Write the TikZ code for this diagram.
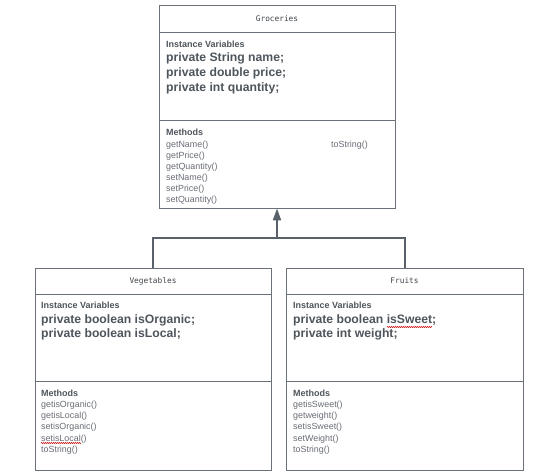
\documentclass[tikz,border=0pt]{standalone}
\usepackage{fontspec}
\setmainfont{Liberation Sans}
\newfontfamily\monofont{DejaVu Sans Mono}
\usetikzlibrary{arrows.meta,decorations.pathmorphing}
\definecolor{txt}{HTML}{4F555C}
\definecolor{edge}{HTML}{6B7178}
\definecolor{conn}{HTML}{59626B}
\tikzset{
  box/.style={draw=edge, line width=0.8pt, fill=white, rectangle, inner sep=0pt},
  divider/.style={draw=edge, line width=0.8pt},
  title/.style={font=\monofont\fontsize{7.8}{9}\selectfont, text=txt!80!black, inner sep=0pt},
  ivhead/.style={font=\bfseries\fontsize{9}{10}\selectfont, text=txt, anchor=mid west, inner sep=0pt},
  ivline/.style={font=\bfseries\fontsize{12.2}{14}\selectfont, text=txt, anchor=mid west, inner sep=0pt},
  mhead/.style={font=\bfseries\fontsize{9}{10}\selectfont, text=txt, anchor=mid west, inner sep=0pt},
  mline/.style={font=\fontsize{8.9}{10}\selectfont, text=txt!85, anchor=mid west, inner sep=0pt},
  connline/.style={draw=conn, line width=2pt},
  squiggle/.style={draw=red!80!black, line width=0.5pt, decorate, decoration={zigzag, amplitude=0.6pt, segment length=2pt}},
}
\begin{document}
\begin{tikzpicture}[x=1pt, y=-1pt]
\useasboundingbox[fill=white] (0,0) rectangle (560,476);

% boxes
\node[box, minimum width=236pt, minimum height=203pt] (groc) at (277,106.5) {};
\node[box, minimum width=236pt, minimum height=202pt] (veg) at (153,268) [anchor=north] {};
\node[box, minimum width=237pt, minimum height=202pt] (fru) at (404.5,268) [anchor=north] {};

% dividers
\draw[divider] (groc.west |- 0,32) -- (groc.east |- 0,32);
\draw[divider] (groc.west |- 0,120) -- (groc.east |- 0,120);
\draw[divider] (veg.west |- 0,294) -- (veg.east |- 0,294);
\draw[divider] (veg.west |- 0,381) -- (veg.east |- 0,381);
\draw[divider] (fru.west |- 0,294) -- (fru.east |- 0,294);
\draw[divider] (fru.west |- 0,381) -- (fru.east |- 0,381);

% Groceries
\node[title] (gt) at (277,19) {Groceries};
\node[ivhead] (giv) at (166,45) {Instance Variables};
\node[ivline] (g1) at (166,59) {private String name;};
\node[ivline] (g2) at (166,74) {private double price;};
\node[ivline] (g3) at (166,89) {private int quantity;};
\node[mhead] (gm) at (166,133) {Methods};
\node[mline] (gm1) at (166,145) {getName()};
\node[mline] (gm2) at (166,156) {getPrice()};
\node[mline] (gm3) at (166,167) {getQuantity()};
\node[mline] (gm4) at (166,178) {setName()};
\node[mline] (gm5) at (166,189) {setPrice()};
\node[mline] (gm6) at (166,200) {setQuantity()};
\node[mline] (gm7) at (331,145) {toString()};

% Vegetables
\node[title] (vt) at (153,281) {Vegetables};
\node[ivhead] (viv) at (41,306) {Instance Variables};
\node[ivline] (v1) at (41,321) {private boolean isOrganic;};
\node[ivline] (v2) at (41,335) {private boolean isLocal;};
\node[mhead] (vm) at (41,394) {Methods};
\node[mline] (vm1) at (41,405) {getisOrganic()};
\node[mline] (vm2) at (41,416) {getisLocal()};
\node[mline] (vm3) at (41,427) {setisOrganic()};
\node[mline] (vm4) at (41,438.5) {setisLocal()};
\node[mline] (vm5) at (41,449.5) {toString()};
\draw[squiggle] (41,443) -- (81,443);

% Fruits
\node[title] (ft) at (404.5,281) {Fruits};
\node[ivhead] (fiv) at (293,306) {Instance Variables};
\node[ivline] (f1) at (293,321) {private boolean isSweet;};
\node[ivline] (f2) at (293,335) {private int weight;};
\node[mhead] (fm) at (293,394) {Methods};
\node[mline] (fm1) at (293,405) {getisSweet()};
\node[mline] (fm2) at (293,416) {getweight()};
\node[mline] (fm3) at (293,427) {setisSweet()};
\node[mline] (fm4) at (293,438.5) {setWeight()};
\node[mline] (fm5) at (293,449.5) {toString()};
\draw[squiggle] (387,327) -- (432,327);

% inheritance connector
\coordinate (jn) at (277,238);
\draw[connline] (veg.north) |- (jn) -| (fru.north);
\draw[connline, -{Triangle[width=8pt,length=12pt]}] (jn) -- (groc.south);
\end{tikzpicture}
\end{document}
